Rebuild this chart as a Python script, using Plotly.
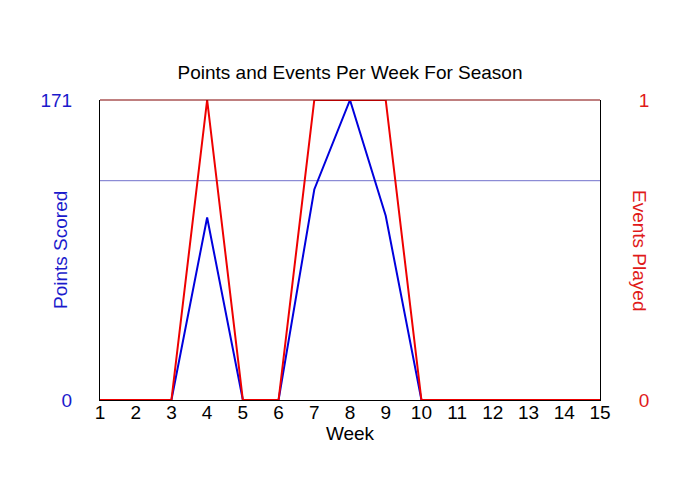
import plotly.graph_objects as go

# Weekly data
weeks = list(range(1, 16))
points_scored = [0, 0, 0, 104, 0, 0, 120, 171, 105, 0, 0, 0, 0, 0, 0]
events_played = [0, 0, 0, 1, 0, 0, 1, 1, 1, 0, 0, 0, 0, 0, 0]
avg_points = [125] * len(weeks)  # average per event played

blue = "#0000dd"
red = "#ee0000"
font_family = "Liberation Sans, Arial, sans-serif"

fig = go.Figure()

# Average reference line
fig.add_trace(go.Scatter(
    x=weeks, y=avg_points, mode="lines",
    line=dict(color="#7272cc", width=1),
    yaxis="y", hoverinfo="skip", showlegend=False
))

# Points scored (left axis)
fig.add_trace(go.Scatter(
    x=weeks, y=points_scored, mode="lines", name="Points Scored",
    line=dict(color=blue, width=2), yaxis="y", showlegend=False
))

# Events played (right axis)
fig.add_trace(go.Scatter(
    x=weeks, y=events_played, mode="lines", name="Events Played",
    line=dict(color=red, width=2), yaxis="y2", showlegend=False
))

# the page body adds an 8px offset, so margins are shifted to compensate
fig.update_layout(
    width=700, height=500,
    margin=dict(l=92, r=108, t=92, b=108),
    plot_bgcolor="white", paper_bgcolor="white",
    font=dict(family=font_family, size=19, color="black"),
    title=dict(text="Points and Events Per Week For Season", xref="paper", x=0.5, y=0.872,
               xanchor="center", yanchor="middle", font=dict(size=19, color="black")),
    xaxis=dict(
        range=[1, 15], tickvals=weeks, showgrid=False, zeroline=False,
        showline=True, linecolor="black", linewidth=1, ticks="",
        tickfont=dict(size=19, color="black"), ticklabelstandoff=-5,
        title=dict(text="Week", font=dict(size=19, color="black"), standoff=0),
    ),
    yaxis=dict(
        range=[0, 171], tickvals=[0, 171], showgrid=False, zeroline=False,
        showline=True, linecolor="black", linewidth=1, ticks="",
        tickfont=dict(size=19, color="#1a1acc"), ticklabelstandoff=23,
    ),
    yaxis2=dict(
        range=[0, 1], tickvals=[0, 1], overlaying="y", side="right",
        showgrid=False, zeroline=False,
        showline=True, linecolor="black", linewidth=1, ticks="",
        tickfont=dict(size=19, color="#e01a1a"), ticklabelstandoff=34,
    ),
    shapes=[dict(type="line", xref="paper", yref="paper", x0=0, x1=1, y0=1, y1=1,
                 line=dict(color="#800000", width=1))],
    annotations=[
        dict(text="Points Scored", xref="paper", yref="paper", x=-0.08, y=0.5,
             textangle=-90, showarrow=False, xanchor="center", yanchor="middle",
             font=dict(size=19, color="#1a1acc")),
        dict(text="Events Played", xref="paper", yref="paper", x=1.08, y=0.5,
             textangle=90, showarrow=False, xanchor="center", yanchor="middle",
             font=dict(size=19, color="#e01a1a")),
    ],
)

fig.write_html("out.html")
